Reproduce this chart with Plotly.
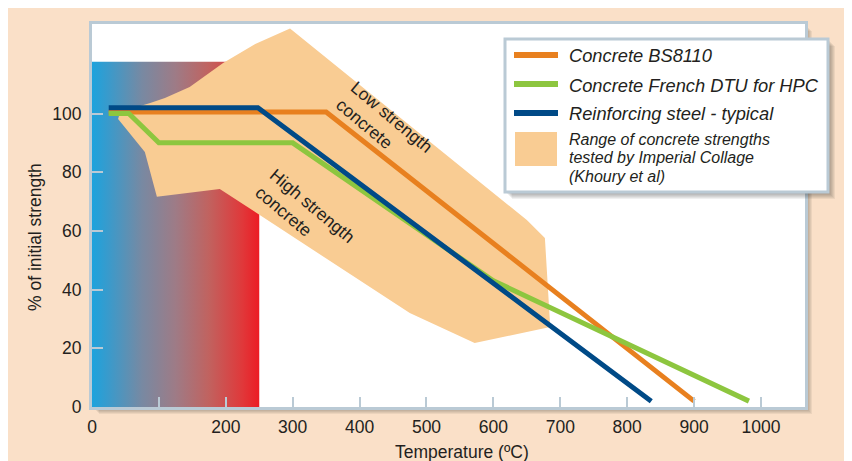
import plotly.graph_objects as go

# ---------------- data ----------------
T_TICKS = [0, 100, 200, 300, 400, 500, 600, 700, 800, 900, 1000]
T_TICK_LABELS = ["0", "", "200", "300", "400", "500", "600", "700", "800", "900", "1000"]
PCT_TICKS = [0, 20, 40, 60, 80, 100]
PCT_TICK_LABELS = ["0", "20", "40", "60", "80", "100"]

HEAT_T = [0, 250, 250, 0, 0]
HEAT_PCT = [0, 0, 117.6, 117.6, 0]

RANGE_T = [296, 244, 196, 146, 109, 87, 42, 39, 79, 97, 191, 475, 572, 685, 677, 650, 296]
RANGE_PCT = [129, 123.7, 117.2, 109, 105.3, 103.6, 100.5, 98.1, 86.9, 71.6, 74.3, 32, 21.8, 27.3, 57.6, 63.7, 129]

BS8110_T = [25, 350, 900]
BS8110_PCT = [100.5, 100.5, 2]

DTU_T = [25, 55, 100, 300, 600, 982]
DTU_PCT = [100, 100, 90, 90, 43, 2]

STEEL_T = [25, 248, 836]
STEEL_PCT = [102, 102, 2]

SERIES_NAMES = ["Concrete BS8110", "Concrete French DTU for HPC", "Reinforcing steel - typical"]
RANGE_LABEL = ["Range of concrete strengths", "tested by Imperial Collage", "(Khoury et al)"]

# ---------------- style ----------------
OFF = 8                      # page (body) margin of the browser
W, H = 852 - OFF, 461 - OFF  # figure size fitting the window
PL, PR, PT, PB = 92, 805, 24, 407   # plot area in window pixels
ORANGE = "#E8801F"
GREEN = "#8DC63F"
BLUE = "#004A87"
PEACH = "#F9CC93"
PANEL = "#FAE0C8"
FRAME = "#BACAD5"
TXT = "#231F20"
FONT = "Liberation Sans, Arial, Helvetica, sans-serif"


def px(x):
    return (x - PL) / (PR - PL)


def py(y):
    return (PB - y) / (PB - PT)


fig = go.Figure()

fig.add_trace(go.Scatter(
    x=HEAT_T, y=HEAT_PCT, mode="lines", fill="toself",
    line=dict(width=0),
    fillgradient=dict(type="horizontal", colorscale=[
        [0.0, "#1DA3DD"], [0.1, "#3A9ACB"], [0.3, "#7889A2"], [0.5, "#9E7B86"],
        [0.7, "#C1625F"], [0.9, "#E0383A"], [1.0, "#EC1C24"]]),
    hoverinfo="skip", showlegend=False))

fig.add_trace(go.Scatter(
    x=RANGE_T, y=RANGE_PCT, mode="lines", fill="toself", fillcolor=PEACH,
    line=dict(width=0), hoverinfo="skip", showlegend=False))

for t, p, c, n in [(BS8110_T, BS8110_PCT, ORANGE, SERIES_NAMES[0]),
                   (DTU_T, DTU_PCT, GREEN, SERIES_NAMES[1]),
                   (STEEL_T, STEEL_PCT, BLUE, SERIES_NAMES[2])]:
    fig.add_trace(go.Scatter(x=t, y=p, mode="lines", name=n,
                             line=dict(color=c, width=5), showlegend=False))

shapes = []
# plot shadow
for i in range(1, 8):
    shapes.append(dict(type="rect", xref="paper", yref="paper", layer="below",
                       x0=px(PL + i), x1=px(PR + i), y0=py(PT + i), y1=py(PB + i),
                       fillcolor="rgba(40,40,40,0.07)", line=dict(width=0)))
shapes.append(dict(type="rect", xref="paper", yref="paper", layer="below",
                   x0=0, x1=1, y0=0, y1=1, fillcolor="white", line=dict(width=0)))

# legend box
LX0, LY0, LX1, LY1 = 505, 39, 828, 192
for i in range(1, 8):
    shapes.append(dict(type="rect", xref="paper", yref="paper", layer="above",
                       x0=px(LX0 + i), x1=px(LX1 + i), y0=py(LY0 + i), y1=py(LY1 + i),
                       fillcolor="rgba(40,40,40,0.07)", line=dict(width=0)))
shapes.append(dict(type="rect", xref="paper", yref="paper", layer="above",
                   x0=px(LX0), x1=px(LX1), y0=py(LY0), y1=py(LY1),
                   fillcolor="white", line=dict(color=FRAME, width=3)))
for yy, c in [(55, ORANGE), (84, GREEN), (113, BLUE)]:
    shapes.append(dict(type="line", xref="paper", yref="paper", layer="above",
                       x0=px(514), x1=px(558), y0=py(yy), y1=py(yy),
                       line=dict(color=c, width=6)))
shapes.append(dict(type="rect", xref="paper", yref="paper", layer="above",
                   x0=px(515), x1=px(557), y0=py(132), y1=py(166),
                   fillcolor=PEACH, line=dict(width=0)))

annotations = []
for yy, name in zip([56, 85, 114], SERIES_NAMES):
    annotations.append(dict(xref="paper", yref="paper", x=px(567), y=py(yy),
                            xanchor="left", yanchor="middle", showarrow=False,
                            text="<i>" + name + "</i>",
                            font=dict(family=FONT, size=18.3, color=TXT)))
for yy, line in zip([139, 157.5, 176], RANGE_LABEL):
    annotations.append(dict(xref="paper", yref="paper", x=px(567), y=py(yy),
                            xanchor="left", yanchor="middle", showarrow=False,
                            text="<i>" + line + "</i>",
                            font=dict(family=FONT, size=16, color=TXT)))

annotations.append(dict(x=436, y=95.8, xref="x", yref="y", showarrow=False,
                        text="Low strength<br>concrete", align="left", textangle=40,
                        xanchor="center", yanchor="middle",
                        font=dict(family=FONT, size=17.5, color=TXT)))
annotations.append(dict(x=318, y=65.6, xref="x", yref="y", showarrow=False,
                        text="High strength<br>concrete", align="left", textangle=40,
                        xanchor="center", yanchor="middle",
                        font=dict(family=FONT, size=17.5, color=TXT)))

# axis titles
annotations.append(dict(xref="paper", yref="paper", x=px(462), y=py(452),
                        xanchor="center", yanchor="middle", showarrow=False,
                        text="Temperature (ºC)",
                        font=dict(family=FONT, size=17.5, color=TXT)))
annotations.append(dict(xref="paper", yref="paper", x=px(35), y=py(237),
                        xanchor="center", yanchor="middle", showarrow=False,
                        text="% of initial strength", textangle=-90,
                        font=dict(family=FONT, size=17.5, color=TXT)))

fig.update_layout(
    width=W, height=H,
    margin=dict(l=PL - OFF, r=W - (PR - OFF), t=PT - OFF, b=H - (PB - OFF), pad=0),
    paper_bgcolor=PANEL, plot_bgcolor="rgba(0,0,0,0)",
    shapes=shapes, annotations=annotations, showlegend=False,
    font=dict(family=FONT, color=TXT),
)
fig.update_xaxes(range=[0, 1065.8], tickvals=T_TICKS, ticktext=T_TICK_LABELS,
                 ticks="inside", ticklen=10, tickwidth=1.5, tickcolor=FRAME,
                 showline=True, mirror=True, linecolor=FRAME, linewidth=3,
                 showgrid=False, zeroline=False, ticklabelstandoff=2,
                 tickfont=dict(family=FONT, size=17.5, color=TXT))
fig.update_yaxes(range=[0, 130.5], tickvals=PCT_TICKS, ticktext=PCT_TICK_LABELS,
                 ticks="inside", ticklen=11, tickwidth=1.5, tickcolor=FRAME,
                 showline=True, mirror=True, linecolor=FRAME, linewidth=3,
                 showgrid=False, zeroline=False, ticklabelstandoff=4,
                 tickfont=dict(family=FONT, size=17.5, color=TXT))

fig.write_html("out.html")
